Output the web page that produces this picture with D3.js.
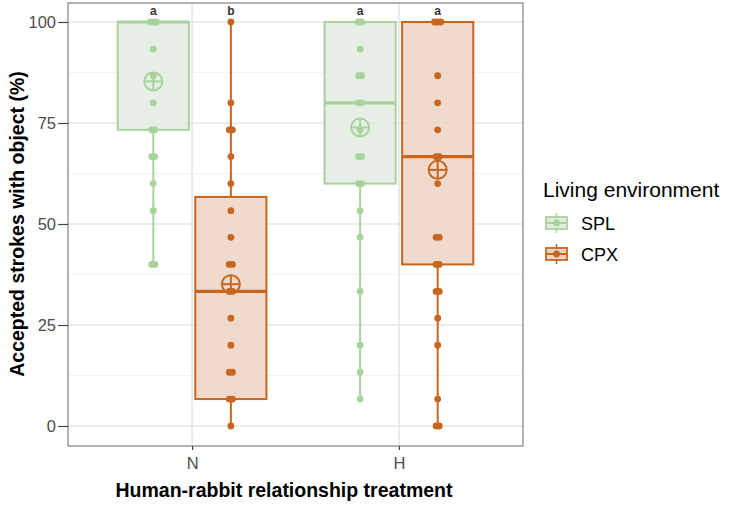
<!DOCTYPE html>
<html>
<head>
<meta charset="utf-8">
<script src="https://cdn.jsdelivr.net/npm/d3@7"></script>
<style>
  body { margin: 0; background: #fff; }
  text { font-family: "Liberation Sans", Arial, sans-serif; }
</style>
</head>
<body>
<svg id="chart"></svg>
<script>
// categories
const treatments = ["N", "H"]
const environments = ["SPL", "CPX"]

// box statistics per group (treatment, environment)
const boxGroups = [["N", "SPL"], ["N", "CPX"], ["H", "SPL"], ["H", "CPX"]]
const whiskerLow = [40, 0, 6.67, 0]
const q1 = [73.3, 6.67, 60, 40]
const median = [100, 33.3, 80, 66.7]
const q3 = [100, 56.7, 100, 100]
const whiskerHigh = [100, 100, 100, 100]
const means = [85.3, 35.1, 73.9, 63.4]
const letters = ["a", "b", "a", "a"]

// individual observations per group
const pointsNSPL = [100, 100, 100, 93.3, 86.7, 80, 73.3, 73.3, 66.7, 66.7, 60, 53.3, 40, 40]
const pointsNCPX = [100, 80, 73.3, 73.3, 66.7, 60, 53.3, 46.7, 40, 40, 33.3, 33.3, 26.7, 20, 13.3, 13.3, 6.67, 6.67, 0]
const pointsHSPL = [100, 100, 93.3, 86.7, 86.7, 80, 80, 73.3, 66.7, 66.7, 60, 60, 53.3, 46.7, 33.3, 20, 13.3, 6.67]
const pointsHCPX = [100, 100, 100, 86.7, 80, 73.3, 66.7, 66.7, 60, 46.7, 46.7, 40, 40, 33.3, 33.3, 26.7, 20, 6.67, 0, 0]
const groupPoints = [pointsNSPL, pointsNCPX, pointsHSPL, pointsHCPX]

const yTicks = [0, 25, 50, 75, 100]
const yMinor = [12.5, 37.5, 62.5, 87.5]

const colors = {
  SPL: { line: "#a8d39c", fill: "#e3ebe0", point: "#a8d39c" },
  CPX: { line: "#c8661f", fill: "#edd3c4", point: "#c8661f" }
}

const width = 729, height = 506
const panel = { left: 68, right: 523, top: 3, bottom: 446 }

const svg = d3.select("#chart").attr("width", width).attr("height", height)

const x = d3.scalePoint()
  .domain(treatments)
  .range([panel.left, panel.right])
  .padding(0.6)

const dodge = d3.scalePoint()
  .domain(environments)
  .range([-0.1875, 0.1875])

const y = d3.scaleLinear()
  .domain([0, 100])
  .range([426, 22])

const step = x.step()
const boxHalf = 0.172 * step
const cx = i => x(boxGroups[i][0]) + dodge(boxGroups[i][1]) * step

// grid
const grid = svg.append("g")
grid.selectAll(".minor").data(yMinor).enter().append("line")
  .attr("x1", panel.left).attr("x2", panel.right)
  .attr("y1", d => y(d)).attr("y2", d => y(d))
  .attr("stroke", "#f2f2f2").attr("stroke-width", 1)
grid.selectAll(".major").data(yTicks).enter().append("line")
  .attr("x1", panel.left).attr("x2", panel.right)
  .attr("y1", d => y(d)).attr("y2", d => y(d))
  .attr("stroke", "#e6e6e6").attr("stroke-width", 1.6)
grid.selectAll(".vmajor").data(treatments).enter().append("line")
  .attr("x1", d => x(d)).attr("x2", d => x(d))
  .attr("y1", panel.top).attr("y2", panel.bottom)
  .attr("stroke", "#e6e6e6").attr("stroke-width", 1.6)

// boxes
const boxes = svg.append("g").selectAll("g").data(boxGroups).enter().append("g")

boxes.each(function (d, i) {
  const g = d3.select(this)
  const c = colors[d[1]]
  const xc = cx(i)

  g.append("line")
    .attr("x1", xc).attr("x2", xc)
    .attr("y1", y(whiskerLow[i])).attr("y2", y(q1[i]))
    .attr("stroke", c.line).attr("stroke-width", 2)
  g.append("line")
    .attr("x1", xc).attr("x2", xc)
    .attr("y1", y(q3[i])).attr("y2", y(whiskerHigh[i]))
    .attr("stroke", c.line).attr("stroke-width", 2)

  g.append("rect")
    .attr("x", xc - boxHalf)
    .attr("y", y(q3[i]))
    .attr("width", boxHalf * 2)
    .attr("height", y(q1[i]) - y(q3[i]))
    .attr("fill", c.fill).attr("fill-opacity", 0.85)
    .attr("stroke", c.line).attr("stroke-width", 2)

  g.append("line")
    .attr("x1", xc - boxHalf).attr("x2", xc + boxHalf)
    .attr("y1", y(median[i])).attr("y2", y(median[i]))
    .attr("stroke", c.line).attr("stroke-width", 3.2)

  // points, duplicates spread a little sideways
  const counts = d3.rollup(groupPoints[i], v => v.length, v => v)
  const seen = new Map()
  const pts = groupPoints[i].map(v => {
    const k = seen.get(v) || 0
    seen.set(v, k + 1)
    return { v, off: (k - (counts.get(v) - 1) / 2) * 3.2 }
  })
  g.selectAll("circle.pt").data(pts).enter().append("circle")
    .attr("class", "pt")
    .attr("cx", p => xc + p.off)
    .attr("cy", p => y(p.v))
    .attr("r", 3.4)
    .attr("fill", c.point)

  // mean marker (circle with cross)
  const my = y(means[i]), r = 9
  g.append("circle")
    .attr("cx", xc).attr("cy", my).attr("r", r)
    .attr("fill", "none").attr("stroke", c.line).attr("stroke-width", 2)
  g.append("line")
    .attr("x1", xc - r).attr("x2", xc + r).attr("y1", my).attr("y2", my)
    .attr("stroke", c.line).attr("stroke-width", 2)
  g.append("line")
    .attr("x1", xc).attr("x2", xc).attr("y1", my - r).attr("y2", my + r)
    .attr("stroke", c.line).attr("stroke-width", 2)

  g.append("text")
    .attr("x", xc).attr("y", 15)
    .attr("text-anchor", "middle")
    .style("font-size", "12px").style("font-weight", "bold")
    .attr("fill", "#333")
    .text(letters[i])
})

// panel border
svg.append("rect")
  .attr("x", panel.left).attr("y", panel.top)
  .attr("width", panel.right - panel.left).attr("height", panel.bottom - panel.top)
  .attr("fill", "none").attr("stroke", "#8a8a8a").attr("stroke-width", 1.3)

// axes
const yAxis = svg.append("g")
  .attr("transform", `translate(${panel.left},0)`)
  .call(d3.axisLeft(y).tickValues(yTicks).tickSize(10).tickPadding(2))
const xAxis = svg.append("g")
  .attr("transform", `translate(0,${panel.bottom})`)
  .call(d3.axisBottom(x).tickSize(4).tickPadding(7))

for (const ax of [yAxis, xAxis]) {
  ax.select(".domain").remove()
  ax.selectAll(".tick line").attr("stroke", "#444").attr("stroke-width", 1.2)
  ax.selectAll(".tick text")
    .attr("fill", "#4d4d4d")
    .style("font-size", "16.5px")
    .style("font-family", "Liberation Sans, Arial, sans-serif")
}

// axis titles
svg.append("text")
  .attr("transform", `translate(24,224) rotate(-90)`)
  .attr("text-anchor", "middle")
  .style("font-size", "19.5px").style("font-weight", "bold")
  .text("Accepted strokes with object (%)")

svg.append("text")
  .attr("x", 284).attr("y", 497)
  .attr("text-anchor", "middle")
  .style("font-size", "19.5px").style("font-weight", "bold")
  .text("Human-rabbit relationship treatment")

// legend
const legend = svg.append("g").attr("transform", "translate(543,0)")
legend.append("text")
  .attr("x", 0).attr("y", 197)
  .style("font-size", "21px")
  .text("Living environment")

const items = legend.selectAll("g.item").data(environments).enter().append("g")
  .attr("class", "item")
  .attr("transform", (d, i) => `translate(2,${213 + i * 31})`)

items.each(function (d) {
  const g = d3.select(this)
  const c = colors[d]
  g.append("line").attr("x1", 11.5).attr("x2", 11.5).attr("y1", 0).attr("y2", 20)
    .attr("stroke", c.line).attr("stroke-width", 1.5)
  g.append("rect").attr("x", 1).attr("y", 4).attr("width", 21).attr("height", 12)
    .attr("fill", c.fill).attr("stroke", c.line).attr("stroke-width", 1.8)
  g.append("line").attr("x1", 1).attr("x2", 22).attr("y1", 10).attr("y2", 10)
    .attr("stroke", c.line).attr("stroke-width", 2)
  g.append("circle").attr("cx", 11.5).attr("cy", 10).attr("r", 3.4).attr("fill", c.point)
  g.append("text").attr("x", 36).attr("y", 17)
    .style("font-size", "18px")
    .text(d)
})
</script>
</body>
</html>
